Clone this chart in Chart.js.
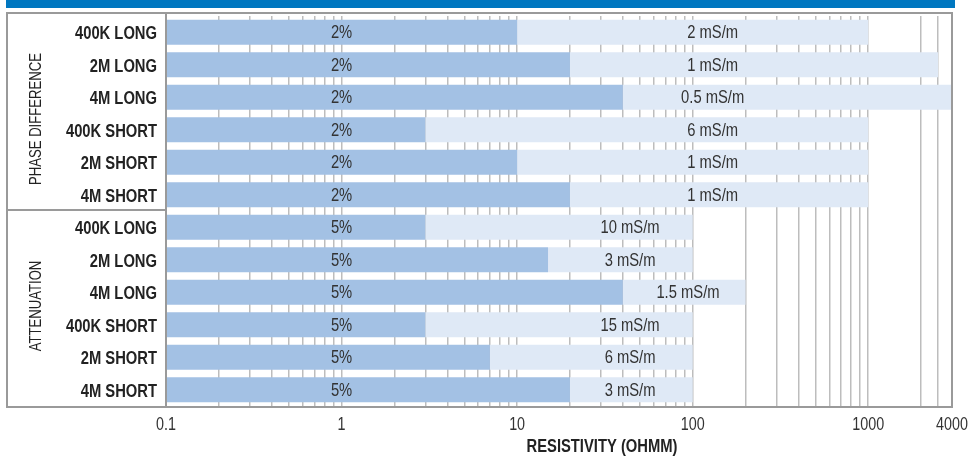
<!DOCTYPE html>
<html>
<head>
<meta charset="utf-8">
<script src="https://cdn.jsdelivr.net/npm/chart.js@4.4.0/dist/chart.umd.min.js"></script>
<style>
  html, body { margin: 0; padding: 0; background: #fff; }
  #wrap { width: 969px; height: 457px; }
</style>
</head>
<body>
<div id="wrap"><canvas id="resChart" width="969" height="457"></canvas></div>
<script>
const tools = ["400K LONG", "2M LONG", "4M LONG", "400K SHORT", "2M SHORT", "4M SHORT",
               "400K LONG", "2M LONG", "4M LONG", "400K SHORT", "2M SHORT", "4M SHORT"];
const groups = ["PHASE DIFFERENCE", "ATTENUATION"];

const accuracyText = ["2%", "2%", "2%", "2%", "2%", "2%", "5%", "5%", "5%", "5%", "5%", "5%"];
const conductivityText = ["2 mS/m", "1 mS/m", "0.5 mS/m", "6 mS/m", "1 mS/m", "1 mS/m",
                          "10 mS/m", "3 mS/m", "1.5 mS/m", "15 mS/m", "6 mS/m", "3 mS/m"];

const rangeStart = 0.1;
const accurateUpTo = [10, 20, 40, 3, 10, 20, 3, 15, 40, 3, 7, 20];
const rangeUpTo = [1000, 2500, 3000, 1000, 1000, 1000, 100, 100, 200, 100, 100, 100];

const tickValues = [0.1, 1, 10, 100, 1000, 3000];
const tickLabels = ["0.1", "1", "10", "100", "1000", "4000"];
const gridValues = [0.2, 0.3, 0.4, 0.5, 0.6, 0.7, 0.8, 0.9, 2, 3, 4, 5, 6, 7, 8, 9,
                    20, 30, 40, 50, 60, 70, 80, 90, 200, 300, 400, 500, 600, 700, 800, 900, 2000, 2500];

// no narrow font installed, so squeeze Liberation Sans to look like Arial Narrow
const FONT = "'Liberation Sans', Arial, sans-serif";
const NARROW = 0.82;

// where the labels sit on the axis (picture puts them at fixed spots, not bar centres)
const darkLabelAt = 1;
const lightLabelAt = [130, 130, 130, 130, 130, 130, 44, 44, 94, 44, 44, 44];

function narrowText(ctx, text, x, y, align, font, color, angle) {
    ctx.save();
    ctx.font = font;
    ctx.fillStyle = color;
    ctx.textAlign = align;
    ctx.textBaseline = "middle";
    ctx.translate(x, y);
    if (angle) ctx.rotate(angle);
    ctx.scale(NARROW, 1);
    ctx.fillText(text, 0, 0);
    ctx.restore();
}

const framePlugin = {
    id: "frame",
    beforeDraw(chart) {
        const ctx = chart.ctx;
        ctx.save();
        ctx.fillStyle = "#ffffff";
        ctx.fillRect(0, 0, chart.width, chart.height);
        ctx.fillStyle = "#0077c0";
        ctx.fillRect(6, 0, 949, 8);
        ctx.restore();
    },
    afterDraw(chart) {
        const ctx = chart.ctx;
        const area = chart.chartArea;
        const x = chart.scales.x;
        const y = chart.scales.y;
        const top = 13, bottom = 407, left = 7;
        ctx.save();
        ctx.strokeStyle = "#9a9a9a";
        ctx.lineWidth = 2;
        ctx.strokeRect(left, top, area.right - left, bottom - top);
        ctx.beginPath();
        ctx.moveTo(area.left, top);
        ctx.lineTo(area.left, bottom);
        const split = (y.getPixelForValue(5) + y.getPixelForValue(6)) / 2 - 1;
        ctx.moveTo(left, split);
        ctx.lineTo(area.left, split);
        ctx.stroke();
        ctx.restore();

        // category labels
        tools.forEach((t, i) => {
            narrowText(ctx, t, area.left - 9, y.getPixelForValue(i) + 2, "right",
                       "bold 18px " + FONT, "#222");
        });

        // group labels
        narrowText(ctx, groups[0], 37, 119, "center", "16px " + FONT, "#222", -Math.PI / 2);
        narrowText(ctx, groups[1], 37, 306, "center", "16px " + FONT, "#222", -Math.PI / 2);

        // x tick labels
        tickValues.forEach((v, i) => {
            narrowText(ctx, tickLabels[i], x.getPixelForValue(v), 425, "center", "17.5px " + FONT, "#333");
        });

        // axis title
        narrowText(ctx, "RESISTIVITY (OHMM)", 602, 447, "center", "bold 18px " + FONT, "#222");
    }
};

const barLabelPlugin = {
    id: "barLabels",
    afterDatasetsDraw(chart) {
        const ctx = chart.ctx;
        const x = chart.scales.x;
        const y = chart.scales.y;
        tools.forEach((t, i) => {
            const py = y.getPixelForValue(i) + 1;
            narrowText(ctx, accuracyText[i], x.getPixelForValue(darkLabelAt), py, "center", "18px " + FONT, "#333");
            narrowText(ctx, conductivityText[i], x.getPixelForValue(lightLabelAt[i]), py, "center", "18px " + FONT, "#333");
        });
    }
};

new Chart(document.getElementById("resChart"), {
    type: "bar",
    data: {
        labels: tools,
        datasets: [{
            label: "Accuracy",
            data: accurateUpTo.map(v => [rangeStart, v]),
            backgroundColor: "#a3c1e4",
            grouped: false,
            order: 1
        }, {
            label: "Range",
            data: accurateUpTo.map((v, i) => [v, rangeUpTo[i]]),
            backgroundColor: "#dfe9f6",
            grouped: false,
            order: 2
        }]
    },
    options: {
        indexAxis: "y",
        responsive: false,
        animation: false,
        barPercentage: 0.77,
        categoryPercentage: 1,
        layout: { padding: { top: 16, right: 17, left: 0, bottom: 0 } },
        plugins: {
            legend: { display: false },
            tooltip: { enabled: false }
        },
        scales: {
            x: {
                type: "logarithmic",
                min: 0.1,
                max: 3000,
                border: { display: false },
                grid: { color: "#bdbdbd", lineWidth: 1.5, drawTicks: false },
                afterBuildTicks: scale => {
                    scale.ticks = tickValues.concat(gridValues).sort((a, b) => a - b).map(v => ({ value: v }));
                },
                afterFit: scale => { scale.height = 51; },
                ticks: { display: false, autoSkip: false }
            },
            y: {
                border: { display: false },
                grid: { display: false, drawTicks: false },
                afterFit: scale => { scale.width = 166; },
                ticks: { display: false }
            }
        }
    },
    plugins: [framePlugin, barLabelPlugin]
});
</script>
</body>
</html>
